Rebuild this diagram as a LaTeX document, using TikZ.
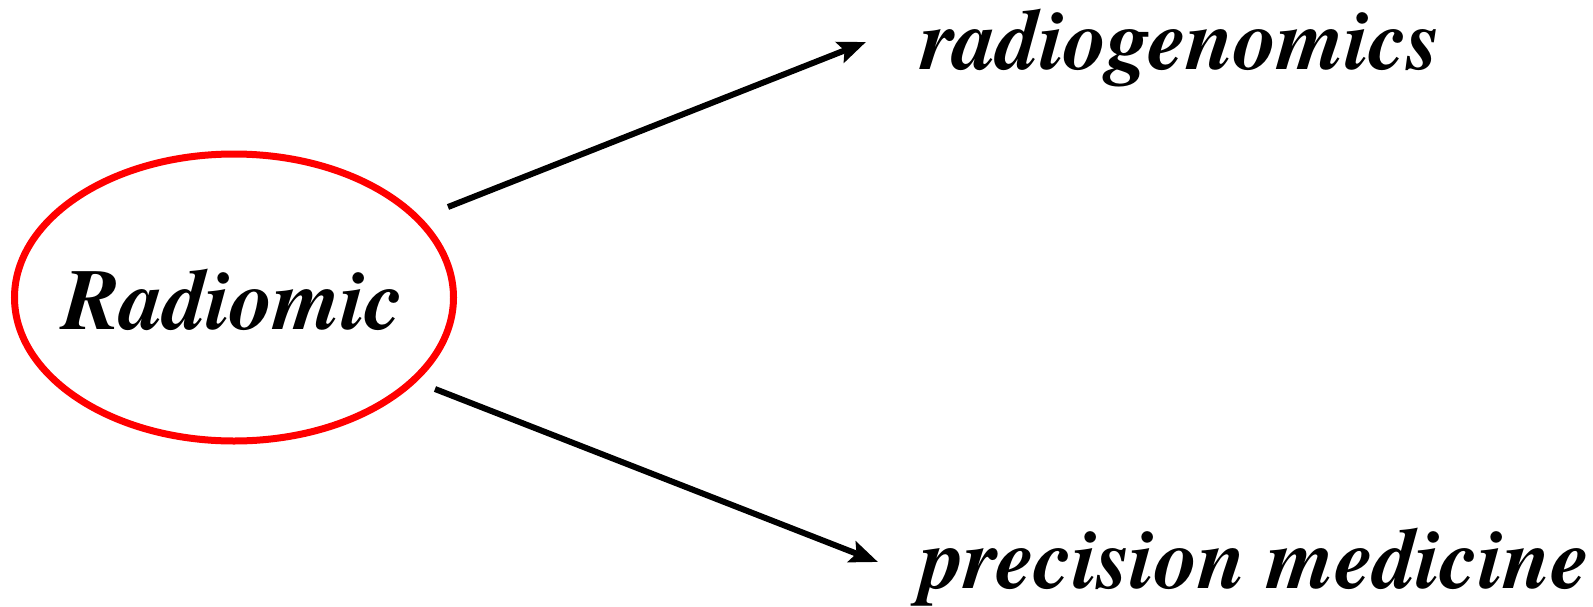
\documentclass[tikz,border=0pt]{standalone}
\usepackage{fontspec}
\newfontfamily\bifont{TeX Gyre Termes}
\usetikzlibrary{arrows.meta}
\begin{document}
\begin{tikzpicture}[x=1pt,y=-1pt,
  lbl/.style={font=\fontsize{86.5}{90}\bifont\bfseries\itshape, inner sep=0pt, anchor=base west},
  conn/.style={line width=6pt, -{Stealth[length=28pt,width=22pt,inset=5pt]}}]
\useasboundingbox[fill=white] (0,0) rectangle (1593,606);
\draw[red, line width=7pt] (234,297.5) ellipse [x radius=219.5, y radius=143.5];
\node[font=\fontsize{86.5}{90}\bifont\bfseries\itshape, inner sep=0pt, anchor=base] (rad) at (233,329) {Radiomic};
\node[lbl] (rg) at (921,69) {radiogenomics};
\node[lbl] (pm) at (921,588) {precision medicine};
\coordinate (s1) at (448,207);
\coordinate (e1) at (866,42);
\coordinate (s2) at (435,389);
\coordinate (e2) at (878,562);
\draw[conn] (s1) -- (e1);
\draw[conn] (s2) -- (e2);
\end{tikzpicture}
\end{document}
